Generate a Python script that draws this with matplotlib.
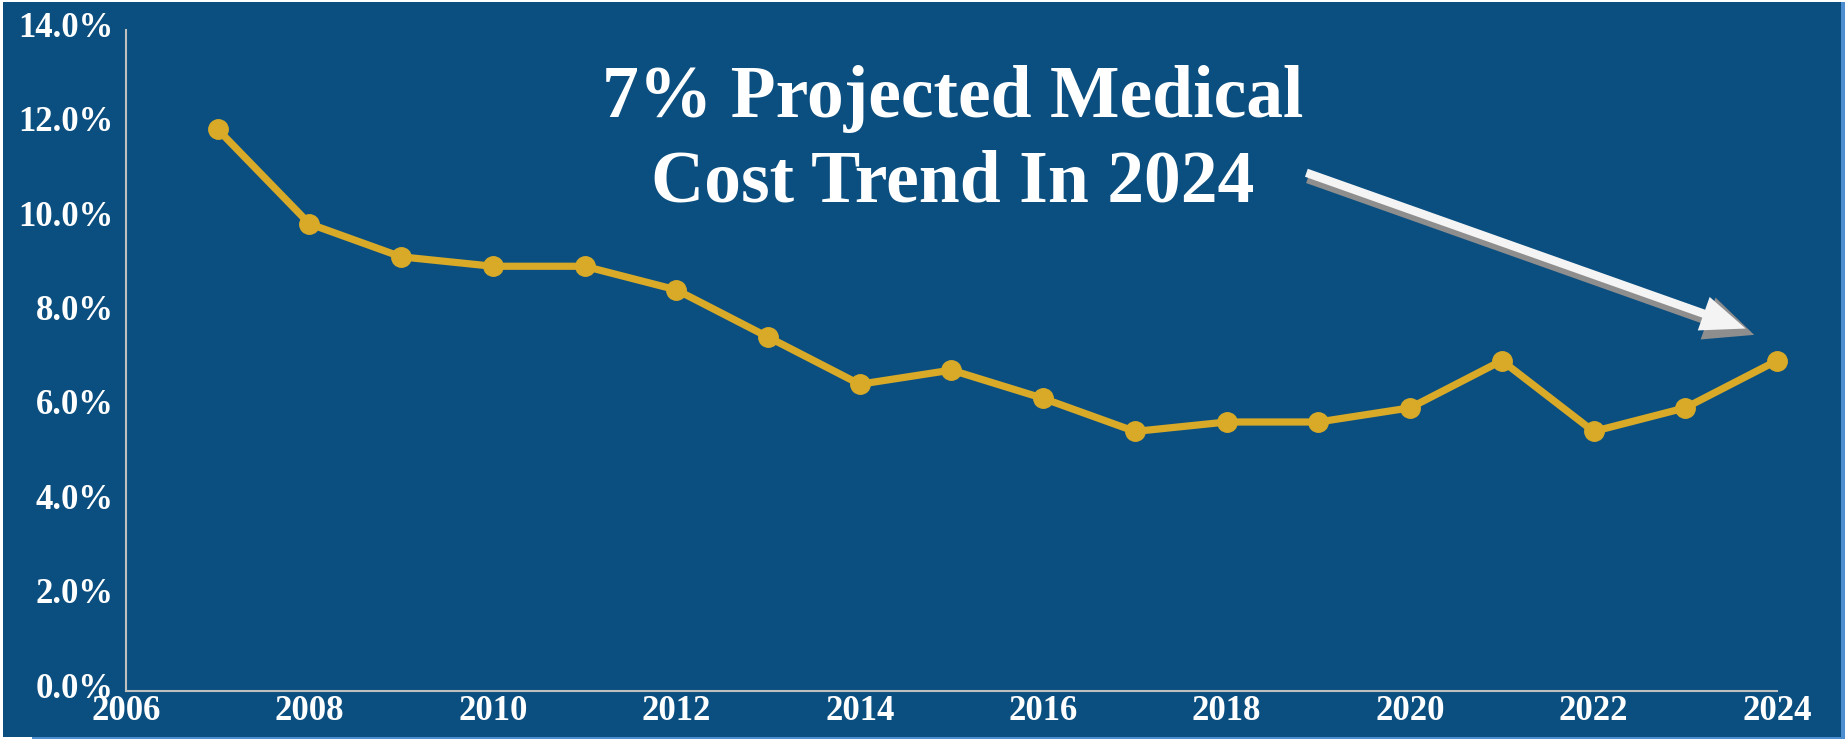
import matplotlib
matplotlib.use("Agg")
import matplotlib.pyplot as plt
from matplotlib.patches import Rectangle
from matplotlib.transforms import offset_copy, ScaledTranslation

# Tendencia del costo médico (%) por año
years = [2007, 2008, 2009, 2010, 2011, 2012, 2013, 2014, 2015,
         2016, 2017, 2018, 2019, 2020, 2021, 2022, 2023, 2024]
trend = [11.9, 9.9, 9.2, 9.0, 9.0, 8.5, 7.5, 6.5, 6.8,
         6.2, 5.5, 5.7, 5.7, 6.0, 7.0, 5.5, 6.0, 7.0]

x_ticks = list(range(2006, 2025, 2))
y_ticks = [0, 2, 4, 6, 8, 10, 12, 14]
y_labels = ['%.1f%%' % v for v in y_ticks]

title = '7% Projected Medical\nCost Trend In 2024'
arrow_from = (2018.88, 10.96)
arrow_to = (2023.74, 7.61)

bg = '#0B4F80'
gold = '#D8AA27'
serif = 'Liberation Serif'

fig = plt.figure(figsize=(18.45, 7.39), dpi=100)
fig.patch.set_facecolor('white')

# Panel azul con bordes
fig.patches.append(Rectangle((3 / 1845, 2 / 739), 1838 / 1845, 735 / 739,
                             transform=fig.transFigure, facecolor=bg,
                             edgecolor='none', zorder=-3))
fig.patches.append(Rectangle((1841 / 1845, 0), 4 / 1845, 737 / 739,
                             transform=fig.transFigure, facecolor='#4C8ECF',
                             edgecolor='none', zorder=-3))
fig.patches.append(Rectangle((32 / 1845, 0), 1813 / 1845, 2 / 739,
                             transform=fig.transFigure, facecolor='#4C8ECF',
                             edgecolor='none', zorder=-3))

ax = fig.add_axes([126 / 1845, 48 / 739, (1777 - 126) / 1845, (690.7 - 30) / 739])
ax.set_facecolor('none')

ax.plot(years, trend, color=gold, linewidth=5.2, marker='o', markersize=14,
        clip_on=False, zorder=3)

ax.set_xlim(2006, 2024)
ax.set_ylim(0, 14)
ax.set_xticks(x_ticks)
ax.set_yticks(y_ticks)
ax.set_yticklabels(y_labels)

for side in ['top', 'right']:
    ax.spines[side].set_visible(False)
for side in ['left', 'bottom']:
    ax.spines[side].set_color('#BFBFBF')
    ax.spines[side].set_linewidth(1.5)

ax.tick_params(axis='both', length=0, colors='white')
ax.tick_params(axis='y', pad=9)
ax.tick_params(axis='x', pad=3)
for lbl in ax.get_xticklabels() + ax.get_yticklabels():
    lbl.set_fontfamily(serif)
    lbl.set_fontweight('bold')
    lbl.set_fontsize(25)
    lbl.set_color('white')

# Etiquetas del eje y un poco más arriba
shift = ScaledTranslation(0, 6 / 100, fig.dpi_scale_trans)
for lbl in ax.get_yticklabels():
    lbl.set_transform(lbl.get_transform() + shift)

fig.text(0.5165, 0.8085, title, ha='center', va='center', color='white',
         fontsize=53, fontfamily=serif, fontweight='bold', linespacing=1.31)

# Flecha con sombra gris
ax.annotate('', xy=arrow_to, xytext=arrow_from,
            xycoords=offset_copy(ax.transData, fig=fig, x=1, y=-3, units='dots'),
            textcoords=offset_copy(ax.transData, fig=fig, x=1, y=-3, units='dots'),
            arrowprops=dict(arrowstyle='simple,head_length=2.2,head_width=2.0,tail_width=0.6',
                            mutation_scale=16, facecolor='#8E8E8E',
                            edgecolor='none', shrinkA=0, shrinkB=0))
ax.annotate('', xy=arrow_to, xytext=arrow_from,
            xycoords=offset_copy(ax.transData, fig=fig, x=-1, y=1, units='dots'),
            textcoords=offset_copy(ax.transData, fig=fig, x=-1, y=1, units='dots'),
            arrowprops=dict(arrowstyle='simple,head_length=2.0,head_width=1.6,tail_width=0.38',
                            mutation_scale=16, facecolor='#F4F4F4',
                            edgecolor='none', shrinkA=0, shrinkB=5))

fig.savefig('out.png', dpi=100, facecolor=fig.get_facecolor())
